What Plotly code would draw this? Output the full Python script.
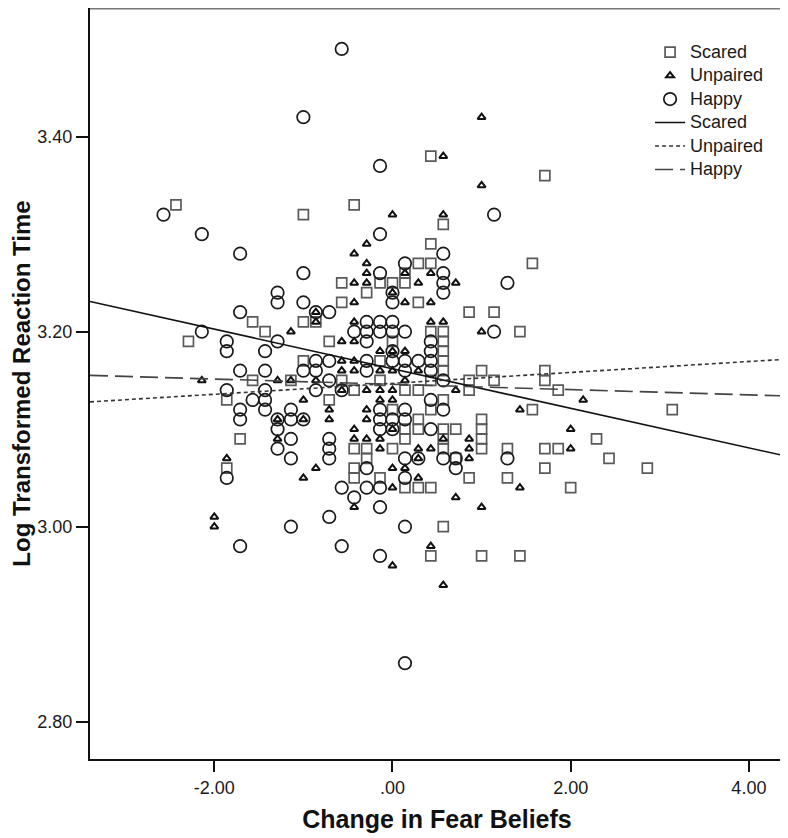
import plotly.graph_objects as go

# ---------------- data ----------------
scared_x = [0.43, 1.71, -2.43, -1.00, -0.43, 0.57, 0.43, 0.29, 0.43, 1.57, 0.14, -0.57, -0.14, 0.00, 0.14,
            -0.29, -0.57, 0.29, 0.86, 1.14, -1.57, -1.00, -0.86, -1.43, 1.43, 0.43, 0.57, -2.29, -0.71, 0.00,
            0.57, 0.57, -1.00, -0.14, 0.57, 0.57, 1.00, 1.71, -1.57, -1.14, -0.57, -0.14, 0.43, 0.86, 1.14,
            1.71, -0.43, 0.14, 0.29, 0.86, 1.86, -1.86, -0.71, 0.57, 0.00, 0.43, 1.57, 3.14, 0.29, 1.00,
            0.14, 0.29, 0.57, 0.71, 1.00, 0.14, 1.00, 2.29, -1.71, 0.57, -0.43, -0.29, 0.00, 0.57, 1.00,
            1.29, 1.71, 1.86, -0.29, 0.71, 2.43, -1.86, -0.43, 1.71, 2.86, -0.43, -0.14, 0.86, 1.29, 0.14,
            0.29, 0.43, 2.00, 0.57, 0.43, 1.00, 1.43]
scared_y = [3.38, 3.36, 3.33, 3.32, 3.33, 3.31, 3.29, 3.27, 3.27, 3.27, 3.26, 3.25, 3.25, 3.25, 3.25,
            3.24, 3.23, 3.23, 3.22, 3.22, 3.21, 3.21, 3.21, 3.20, 3.20, 3.20, 3.20, 3.19, 3.19, 3.19,
            3.19, 3.18, 3.17, 3.17, 3.17, 3.16, 3.16, 3.16, 3.15, 3.15, 3.15, 3.15, 3.15, 3.15, 3.15,
            3.15, 3.14, 3.14, 3.14, 3.14, 3.14, 3.13, 3.13, 3.13, 3.12, 3.12, 3.12, 3.12, 3.11, 3.11,
            3.10, 3.10, 3.10, 3.10, 3.10, 3.09, 3.09, 3.09, 3.09, 3.09, 3.08, 3.08, 3.08, 3.08, 3.08,
            3.08, 3.08, 3.08, 3.07, 3.07, 3.07, 3.06, 3.06, 3.06, 3.06, 3.05, 3.05, 3.05, 3.05, 3.04,
            3.04, 3.04, 3.04, 3.00, 2.97, 2.97, 2.97]

unpaired_x = [1.00, 0.57, 1.00, 0.00, 0.57, -0.29, -0.43, -0.29, 0.43, -0.29, 0.14, -0.43, -0.29, 0.29, 0.71,
              0.00, -0.43, 0.14, 0.43, -0.86, -0.86, -0.43, 0.43, 0.57, -1.14, 1.00, -0.57, -0.43, -0.14, 0.00,
              0.14, -0.57, -0.43, -0.57, -0.43, -0.14, 0.00, 0.29, -2.14, -1.29, -1.14, -0.86, 0.14, -0.57, -0.29,
              -0.14, 0.00, 0.71, -1.00, -0.14, 0.00, 2.14, -0.71, -0.29, 1.43, -0.71, -0.29, -1.29, -1.00, -0.43,
              0.00, 2.00, -1.29, -0.43, -0.29, -0.14, 0.57, 0.86, -0.14, 0.29, 0.43, 0.86, 2.00, -1.86, 0.29,
              0.86, -0.86, 0.00, 0.14, -1.00, 0.29, 0.00, 1.43, 0.71, -0.43, 1.00, -2.00, -2.00, 0.43, 0.00,
              0.57]
unpaired_y = [3.42, 3.38, 3.35, 3.32, 3.32, 3.29, 3.28, 3.27, 3.26, 3.26, 3.26, 3.25, 3.25, 3.25, 3.25,
              3.24, 3.23, 3.23, 3.23, 3.22, 3.21, 3.21, 3.21, 3.21, 3.20, 3.20, 3.19, 3.19, 3.18, 3.18,
              3.18, 3.17, 3.17, 3.16, 3.16, 3.16, 3.16, 3.16, 3.15, 3.15, 3.15, 3.15, 3.15, 3.14, 3.14,
              3.14, 3.14, 3.14, 3.13, 3.13, 3.13, 3.13, 3.12, 3.12, 3.12, 3.11, 3.11, 3.11, 3.11, 3.10,
              3.10, 3.10, 3.09, 3.09, 3.09, 3.09, 3.09, 3.09, 3.08, 3.08, 3.08, 3.08, 3.08, 3.07, 3.07,
              3.07, 3.06, 3.06, 3.06, 3.05, 3.05, 3.04, 3.04, 3.03, 3.02, 3.02, 3.01, 3.00, 2.98, 2.96,
              2.94]

happy_x = [-0.57, -1.00, -0.14, -2.57, 1.14, -2.14, -0.14, -1.71, 0.57, 0.14, -1.00, -0.14, 0.57, 0.57, 1.29,
           -1.29, 0.00, 0.57, -1.29, -1.00, 0.00, -1.71, -0.86, -0.71, -0.29, -0.14, 0.00, -2.14, -0.43, -0.29,
           -0.14, 0.00, 0.14, 1.14, -1.86, -1.29, -0.29, 0.43, -1.86, -1.43, 0.00, 0.43, -0.86, -0.71, -0.29,
           0.00, 0.14, 0.29, 0.43, -1.71, -1.43, -1.00, -0.86, -0.29, 0.14, 0.43, -0.71, 0.57, -1.86, -1.43,
           -0.86, -0.57, -1.57, -1.43, 0.43, -1.71, -1.43, -1.14, -0.14, 0.14, 0.57, -1.71, -1.29, -1.14, -1.00,
           -0.14, 0.00, 0.14, -1.29, -0.14, 0.00, 0.43, -1.14, -0.71, -1.29, -0.71, -1.14, -0.71, 0.14, 0.29,
           0.57, 1.29, 0.71, -0.29, 0.71, -1.86, 0.14, -0.57, -0.29, -0.14, -0.43, -0.14, -0.71, -1.14, 0.14,
           -1.71, -0.57, -0.14, 0.14]
happy_y = [3.49, 3.42, 3.37, 3.32, 3.32, 3.30, 3.30, 3.28, 3.28, 3.27, 3.26, 3.26, 3.26, 3.25, 3.25,
           3.24, 3.24, 3.24, 3.23, 3.23, 3.23, 3.22, 3.22, 3.22, 3.21, 3.21, 3.21, 3.20, 3.20, 3.20,
           3.20, 3.20, 3.20, 3.20, 3.19, 3.19, 3.19, 3.19, 3.18, 3.18, 3.18, 3.18, 3.17, 3.17, 3.17,
           3.17, 3.17, 3.17, 3.17, 3.16, 3.16, 3.16, 3.16, 3.16, 3.16, 3.16, 3.15, 3.15, 3.14, 3.14,
           3.14, 3.14, 3.13, 3.13, 3.13, 3.12, 3.12, 3.12, 3.12, 3.12, 3.12, 3.11, 3.11, 3.11, 3.11,
           3.11, 3.11, 3.11, 3.10, 3.10, 3.10, 3.10, 3.09, 3.09, 3.08, 3.08, 3.07, 3.07, 3.07, 3.07,
           3.07, 3.07, 3.07, 3.06, 3.06, 3.05, 3.05, 3.04, 3.04, 3.04, 3.03, 3.02, 3.01, 3.00, 3.00,
           2.98, 2.98, 2.97, 2.86]

# fit lines (intercept, slope)
fit_names = ["Scared", "Unpaired", "Happy"]
fit_intercepts = [3.162, 3.147, 3.146]
fit_slopes = [-0.0203, 0.0056, -0.0027]

x_range = [-3.395, 4.394]
y_range = [2.7617, 3.532]
x_tickvals = [-2, 0, 2, 4]
x_ticktext = ["-2.00", ".00", "2.00", "4.00"]
y_tickvals = [2.8, 3.0, 3.2, 3.4]
y_ticktext = ["2.80", "3.00", "3.20", "3.40"]

FONT = "Liberation Sans, Arial, sans-serif"


def legend_label(text):
    return "<span style='font-size:18px'>" + text + "</span>"


fig = go.Figure()

# scatter series
fig.add_trace(go.Scatter(x=scared_x, y=scared_y, mode="markers", name=legend_label("Scared"), legendgroup="a",
                         marker=dict(symbol="square-open", size=10, color="#5a5a5a", line=dict(width=1.7, color="#5a5a5a"))))
fig.add_trace(go.Scatter(x=unpaired_x, y=unpaired_y, mode="markers", name=legend_label("Unpaired"), legendgroup="b",
                         marker=dict(symbol="triangle-up-open", size=7, color="#111111", line=dict(width=2, color="#111111"))))
fig.add_trace(go.Scatter(x=happy_x, y=happy_y, mode="markers", name=legend_label("Happy"), legendgroup="c",
                         marker=dict(symbol="circle-open", size=12.5, color="#1a1a1a", line=dict(width=1.7, color="#1a1a1a"))))

# fit lines
dashes = ["solid", "4px,3px", "18px,7px"]
colors = ["#111111", "#333333", "#444444"]
groups = ["d", "e", "f"]
for name, b0, b1, dsh, col, g in zip(fit_names, fit_intercepts, fit_slopes, dashes, colors, groups):
    xs = [x_range[0], x_range[1]]
    ys = [b0 + b1 * xv for xv in xs]
    fig.add_trace(go.Scatter(x=xs, y=ys, mode="lines", name=legend_label(name), legendgroup=g,
                             line=dict(color=col, width=1.6, dash=dsh)))

fig.update_layout(
    width=780, height=830,
    margin=dict(l=82, r=4, t=0, b=79),
    paper_bgcolor="white", plot_bgcolor="white",
    font=dict(family=FONT, size=18, color="#1a1a1a"),
    legend=dict(x=0.807, y=0.963, xanchor="left", yanchor="top", bgcolor="rgba(0,0,0,0)",
                font=dict(family=FONT, size=15, color="#1a1a1a"), tracegroupgap=1, itemwidth=30),
    showlegend=True,
)

fig.update_xaxes(range=x_range, tickvals=x_tickvals, ticktext=x_ticktext, automargin=False,
                 showgrid=False, zeroline=False, showline=True, linecolor="#111111", linewidth=2,
                 ticks="outside", ticklen=11, tickwidth=2, tickcolor="#111111",
                 tickfont=dict(family=FONT, size=18, color="#1a1a1a"),
                 title=dict(text="<b>Change in Fear Beliefs</b>", font=dict(family=FONT, size=25, color="#111111"), standoff=14))
fig.update_yaxes(range=y_range, tickvals=y_tickvals, ticktext=y_ticktext, automargin=False,
                 showgrid=False, zeroline=False, showline=True, linecolor="#111111", linewidth=2,
                 ticks="outside", ticklen=12, tickwidth=2, tickcolor="#111111",
                 tickfont=dict(family=FONT, size=18, color="#1a1a1a"),
                 title=dict(text="<b>Log Transformed Reaction Time</b>", font=dict(family=FONT, size=24, color="#111111"), standoff=9))

# top and right frame
fig.add_shape(type="line", xref="paper", yref="paper", x0=0, x1=1, y0=1, y1=1, line=dict(color="#777777", width=3))
fig.add_shape(type="line", xref="paper", yref="paper", x0=1, x1=1, y0=0, y1=1, line=dict(color="#555555", width=2))

fig.write_html("out.html")
